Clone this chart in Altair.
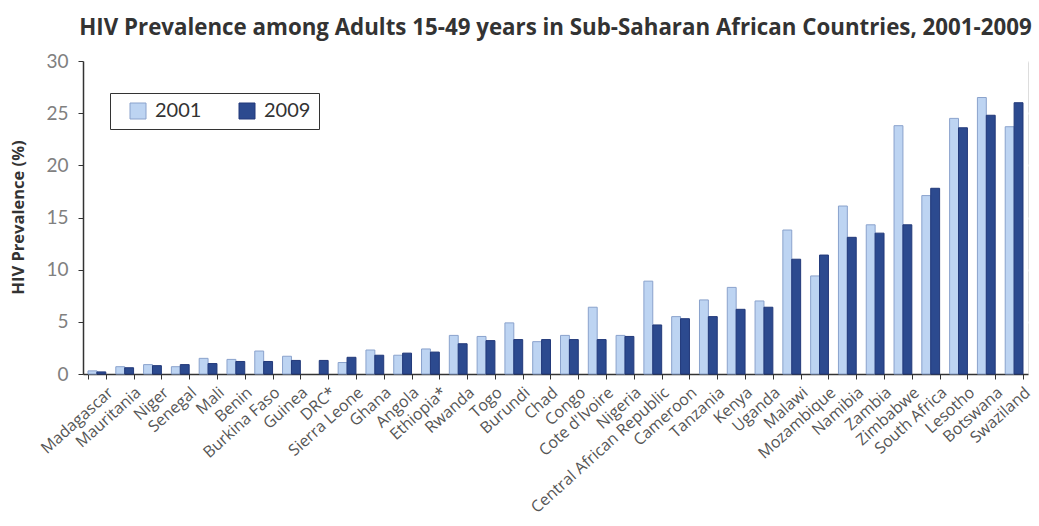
import altair as alt
import pandas as pd

countries = ["Madagascar", "Mauritania", "Niger", "Senegal", "Mali", "Benin", "Burkina Faso",
             "Guinea", "DRC*", "Sierra Leone", "Ghana", "Angola", "Ethiopia*", "Rwanda", "Togo",
             "Burundi", "Chad", "Congo", "Cote d'Ivoire", "Nigeria", "Central African Republic",
             "Cameroon", "Tanzania", "Kenya", "Uganda", "Malawi", "Mozambique", "Namibia",
             "Zambia", "Zimbabwe", "South Africa", "Lesotho", "Botswana", "Swaziland"]
v2001 = [0.3, 0.7, 0.9, 0.7, 1.5, 1.4, 2.2, 1.7, None, 1.1, 2.3, 1.8, 2.4, 3.7, 3.6,
         4.9, 3.1, 3.7, 6.4, 3.7, 8.9, 5.5, 7.1, 8.3, 7.0, 13.8, 9.4, 16.1,
         14.3, 23.8, 17.1, 24.5, 26.5, 23.7]
v2009 = [0.2, 0.6, 0.8, 0.9, 1.0, 1.2, 1.2, 1.3, 1.3, 1.6, 1.8, 2.0, 2.1, 2.9, 3.2,
         3.3, 3.3, 3.3, 3.3, 3.6, 4.7, 5.3, 5.5, 6.2, 6.4, 11.0, 11.4, 13.1,
         13.5, 14.3, 17.8, 23.6, 24.8, 26.0]
years = ["2001", "2009"]
fill_colors = ["#bdd4f2", "#2c4a8f"]
stroke_colors = ["#8aa2cc", "#22397a"]

rows = []
for c, a, b in zip(countries, v2001, v2009):
    rows.append({"country": c, "year": years[0], "value": a})
    rows.append({"country": c, "year": years[1], "value": b})
df = pd.DataFrame(rows)

FONT = "Lato"
WIDE = "Open Sans"

legend_opts = dict(orient="none", legendX=27, legendY=32, direction="horizontal",
                   symbolType="square", symbolSize=256, labelFontSize=20, labelFont=FONT,
                   labelColor="#333333", columnPadding=25, padding=8,
                   strokeColor="#333333", fillColor="#ffffff", symbolStrokeWidth=1,
                   labelOffset=7, symbolOffset=10,
                   labelExpr="datum.label + '     '")

chart = alt.Chart(df).mark_bar(strokeWidth=1).encode(
    x=alt.X("country:N", sort=countries, title=None,
            scale=alt.Scale(paddingInner=0.36, paddingOuter=0.18),
            axis=alt.Axis(labelAngle=-42, labelAlign="right", labelBaseline="top",
                          labelPadding=5, labelOffset=8, labelFontSize=16,
                          labelColor="#555555", labelFont=WIDE, tickBand="extent",
                          tickSize=5, tickColor="#333333", domainColor="#333333",
                          domainWidth=1.5, grid=False, labelOverlap=False)),
    xOffset=alt.XOffset("year:N", sort=years),
    y=alt.Y("value:Q", title="HIV Prevalence (%)",
            scale=alt.Scale(domain=[0, 30], nice=False),
            axis=alt.Axis(values=[0, 5, 10, 15, 20, 25, 30], labelFontSize=19,
                          labelColor="#808080", labelFont=FONT, labelPadding=10,
                          tickSize=5, tickColor="#333333", domainColor="#333333",
                          domainWidth=1.5, gridColor="#ffffff", gridWidth=2,
                          titleFont=WIDE, titleFontSize=16.5, titleFontWeight="bold",
                          titleColor="#333333", titleX=-65, titleY=156, titleAngle=-90,
                          titleAlign="center", titleBaseline="middle")),
    fill=alt.Fill("year:N", sort=years, title=None,
                  scale=alt.Scale(domain=years, range=fill_colors),
                  legend=alt.Legend(**legend_opts)),
    stroke=alt.Stroke("year:N", sort=years, title=None,
                      scale=alt.Scale(domain=years, range=stroke_colors),
                      legend=alt.Legend(**legend_opts)),
).properties(
    width=945, height=313,
    title=alt.Title("HIV Prevalence among Adults 15-49 years in Sub-Saharan African Countries, 2001-2009",
                    font=WIDE, fontSize=22.3, fontWeight="bold", color="#333333",
                    anchor="middle", offset=13),
    autosize=alt.AutoSizeParams(type="none"),
    padding={"left": 83, "top": 61, "right": 11, "bottom": 152},
).configure_view(fill="#e7e7e7", stroke=None).configure(background="#ffffff")

chart.save("out.html", embed_options={"renderer": "svg", "actions": False})
